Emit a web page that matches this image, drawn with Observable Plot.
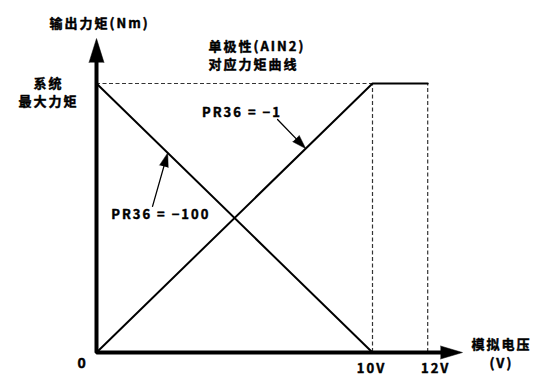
<!DOCTYPE html>
<html>
<head>
<meta charset="utf-8">
<script src="https://cdn.jsdelivr.net/npm/d3@7"></script>
<script src="https://cdn.jsdelivr.net/npm/@observablehq/plot@0.6"></script>
<style>
  html, body { margin: 0; padding: 0; background: #fff; }
  #chart svg { display: block; }
</style>
</head>
<body>
<div id="chart"></div>
<script>
// ---- data (voltage in V, torque normalised to system max torque = 1) ----
const voltage      = [0, 10, 12];
const torquePR1    = [0, 1, 1];      // PR36 = -1
const voltage100   = [0, 10];
const torquePR100  = [1, 0];          // PR36 = -100
const maxTorque    = 1;
const guideVolts   = [10, 12];
const tickLabels   = ["10V", "12V"];
const seriesLabels = ["PR36 = −1", "PR36 = −100"];
const yTitle  = "输出力矩(Nm)";
const xTitle  = "模拟电压\n(V)";
const yMaxLab = "系统\n最大力矩";
const title   = "单极性(AIN2)\n对应力矩曲线";

// ---- scale geometry ----
const X0 = 96, KX = 27.6, Y0 = 352, KY = 269;
const toPx = p => [X0 + p[0] * KX, Y0 - p[1] * KY];
const toData = ([x, y]) => ({x: (x - X0) / KX, y: (Y0 - y) / KY});
function head(tail, tip, len, half, id) {
  const [tx, ty] = toPx(tail), [hx, hy] = toPx(tip);
  const dx = hx - tx, dy = hy - ty, d = Math.hypot(dx, dy);
  const ux = dx / d, uy = dy / d;
  const bx = hx - ux * len, by = hy - uy * len;
  return [[bx - uy * half, by + ux * half], [hx, hy], [bx + uy * half, by - ux * half]]
    .map(p => ({...toData(p), id}));
}
function shaftEnd(tail, tip, back) {
  const [tx, ty] = toPx(tail), [hx, hy] = toPx(tip);
  const dx = hx - tx, dy = hy - ty, d = Math.hypot(dx, dy);
  return toData([hx - dx / d * back, hy - dy / d * back]);
}

const lineA = voltage.map((v, i) => ({x: v, y: torquePR1[i]}));
const lineB = voltage100.map((v, i) => ({x: v, y: torquePR100[i]}));

// axis ends
const yTip = [0, 1.167], xTip = [13.26, 0];
const yBase = shaftEnd([0, 0], yTip, 20), xBase = shaftEnd([0, 0], xTip, 18);
const axisPath = [{x: yBase.x, y: yBase.y}, {x: 0, y: 0}, {x: xBase.x, y: xBase.y}];

// annotation arrows (tail near label, tip on the curve)
const annA = {tail: [6.56, 0.866], tip: [7.58, 0.758]};
const annB = {tail: [2.03, 0.543], tip: [2.58, 0.742]};

const heads = [
  ...head([0, 0], yTip, 24, 7.5, "ya"),
  ...head([0, 0], xTip, 22, 6.5, "xa"),
  ...head(annA.tail, annA.tip, 14, 4.5, "a1"),
  ...head(annB.tail, annB.tip, 14, 4.5, "a2")
];
const shafts = [
  {x: annA.tail[0], y: annA.tail[1], id: "a1"}, {...shaftEnd(annA.tail, annA.tip, 8), id: "a1"},
  {x: annB.tail[0], y: annB.tail[1], id: "a2"}, {...shaftEnd(annB.tail, annB.tip, 8), id: "a2"}
];

const dashes = [{x1: 0, x2: guideVolts[0], y: maxTorque}];
const vguides = guideVolts.map(v => ({x: v, y1: 0, y2: maxTorque}));

const font = "'Noto Sans CJK SC', 'Noto Sans', sans-serif";
const common = {fontFamily: font, fontWeight: "bold", fill: "#000", stroke: "#000", strokeWidth: 0.45};

const chart = Plot.plot({
  width: 539,
  height: 376,
  margin: 0,
  x: {domain: [0, 12], range: [X0, X0 + 12 * KX], axis: null},
  y: {domain: [0, 1], range: [Y0, Y0 - KY], axis: null},
  style: {background: "#fff", letterSpacing: "2px"},
  marks: [
    // dashed guides
    Plot.ruleY(dashes, {x1: "x1", x2: "x2", y: "y", stroke: "#333", strokeWidth: 1.2, strokeDasharray: "4,2.5"}),
    Plot.ruleX(vguides, {x: "x", y1: "y1", y2: "y2", stroke: "#333", strokeWidth: 1.2, strokeDasharray: "4,2.5"}),
    // curves
    Plot.line(lineA, {x: "x", y: "y", stroke: "#000", strokeWidth: 2}),
    Plot.line(lineB, {x: "x", y: "y", stroke: "#000", strokeWidth: 2}),
    // axes
    Plot.line(axisPath, {x: "x", y: "y", stroke: "#000", strokeWidth: 4, strokeLinejoin: "miter", strokeLinecap: "square"}),
    // annotation shafts
    Plot.line(shafts, {x: "x", y: "y", z: "id", stroke: "#000", strokeWidth: 1.3}),
    // arrowheads
    Plot.line(heads, {x: "x", y: "y", z: "id", fill: "#000", stroke: "#000", strokeWidth: 0.5}),
    // texts
    Plot.text([yTitle], {x: 0.11, y: 1.223, text: d => d, fontSize: 13, ...common}),
    Plot.text([yMaxLab], {x: -1.74, y: 0.97, text: d => d, fontSize: 13, lineHeight: 1.38, ...common}),
    Plot.text([title], {x: 4.06, y: 1.108, text: d => d, fontSize: 13, lineHeight: 1.38, textAnchor: "start", ...common}),
    Plot.text([xTitle], {x: 14.67, y: 0.0, text: d => d, fontSize: 13, lineHeight: 1.45, ...common}),
    Plot.text(["0"], {x: 0, y: 0, dx: -14, dy: 11, text: d => d, fontSize: 14, ...common}),
    Plot.text([tickLabels[0]], {x: guideVolts[0], y: 0, dx: -1, dy: 16, text: d => d, fontSize: 13, ...common}),
    Plot.text([tickLabels[1]], {x: guideVolts[1], y: 0, dx: 8, dy: 16, text: d => d, fontSize: 13, ...common}),
    Plot.text([seriesLabels[0]], {x: 5.27, y: 0.892, text: d => d, fontSize: 13, ...common}),
    Plot.text([seriesLabels[1]], {x: 2.33, y: 0.51, text: d => d, fontSize: 13, ...common})
  ]
});
document.getElementById("chart").appendChild(chart);
</script>
</body>
</html>
